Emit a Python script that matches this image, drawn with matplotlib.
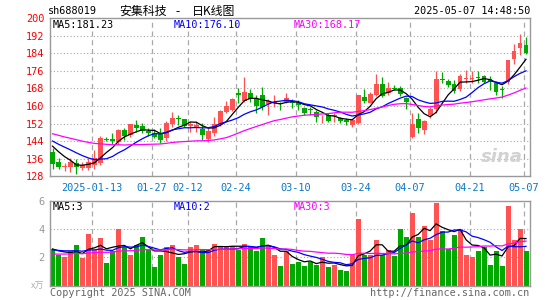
import matplotlib
matplotlib.use("Agg")
import matplotlib.pyplot as plt
import numpy as np
import pandas as pd

# ---------------- data ----------------
dates = ["01-02", "01-03", "01-06", "01-07", "01-08", "01-09", "01-10", "01-13", "01-14", "01-15",
         "01-16", "01-17", "01-20", "01-21", "01-22", "01-23", "01-24", "01-27",
         "02-05", "02-06", "02-07", "02-10", "02-11", "02-12", "02-13", "02-14", "02-17", "02-18",
         "02-19", "02-20", "02-21", "02-24", "02-25", "02-26", "02-27", "02-28",
         "03-03", "03-04", "03-05", "03-06", "03-07", "03-10", "03-11", "03-12", "03-13", "03-14",
         "03-17", "03-18", "03-19", "03-20", "03-21", "03-24", "03-25", "03-26", "03-27", "03-28", "03-31",
         "04-01", "04-02", "04-03", "04-07", "04-08", "04-09", "04-10", "04-11", "04-14", "04-15",
         "04-16", "04-17", "04-18", "04-21", "04-22", "04-23", "04-24", "04-25", "04-28", "04-29", "04-30",
         "05-06", "05-07"]

open_ = [139.1, 134.5, 132.1, 132.4, 133.9, 132.0, 132.0, 133.2, 134.0, 145.0,
         145.1, 143.8, 149.1, 147.0, 151.5, 150.9, 148.6, 147.9, 147.3, 145.3,
         151.8, 154.5, 154.0, 150.9, 150.3, 149.4, 145.0, 147.8, 151.6, 157.4,
         158.2, 166.1, 162.4, 166.0, 163.3, 165.0, 160.7, 161.2, 161.3, 162.0,
         161.7, 161.2, 159.0, 158.3, 157.4, 154.8, 155.9, 155.4, 154.4, 153.6,
         151.4, 152.1, 164.2, 161.5, 165.0, 170.0, 165.8, 168.3, 168.0, 163.5,
         146.0, 154.1, 149.2, 155.9, 158.5, 172.3, 171.5, 170.2, 167.8, 172.1,
         172.1, 173.2, 173.5, 172.4, 170.5, 167.9, 171.0, 181.5, 186.3, 187.9]
high = [140.8, 136.4, 134.2, 136.2, 135.8, 134.7, 136.5, 140.0, 146.4, 145.9,
        147.6, 149.4, 150.1, 151.8, 153.6, 152.1, 150.1, 149.4, 149.9, 153.3,
        157.4, 155.9, 154.3, 152.9, 153.2, 152.5, 150.0, 155.0, 158.3, 162.4,
        163.5, 168.4, 173.2, 167.6, 164.8, 168.6, 163.0, 165.0, 162.0, 165.9,
        163.0, 162.7, 159.7, 159.7, 158.2, 155.9, 156.7, 156.7, 155.1, 154.4,
        154.0, 165.0, 167.8, 166.5, 174.5, 173.0, 171.0, 169.5, 169.2, 164.2,
        157.0, 157.0, 153.6, 159.7, 175.8, 175.5, 172.1, 172.0, 174.4, 176.5,
        176.0, 176.0, 174.0, 173.6, 171.3, 169.0, 181.1, 188.4, 192.9, 191.4]
low = [131.5, 131.5, 130.6, 130.1, 129.1, 130.9, 130.9, 131.2, 133.0, 144.1,
       142.6, 142.7, 144.5, 146.1, 148.3, 147.6, 146.4, 145.3, 143.0, 144.1,
       150.6, 151.4, 150.5, 148.0, 148.3, 144.5, 143.8, 146.5, 150.8, 156.7,
       157.9, 161.2, 162.0, 162.0, 156.9, 158.2, 155.9, 159.7, 158.2, 161.2,
       159.0, 158.2, 155.9, 155.9, 152.9, 152.4, 152.9, 152.9, 152.1, 151.4,
       150.6, 152.0, 161.2, 161.2, 164.6, 164.0, 165.0, 167.3, 164.5, 158.5,
       145.3, 147.8, 147.3, 154.5, 157.0, 170.6, 168.8, 165.9, 166.6, 170.5,
       170.5, 170.5, 170.5, 167.4, 165.1, 163.5, 170.2, 179.0, 183.2, 183.7]
close = [133.8, 132.4, 132.9, 134.4, 132.4, 133.3, 134.5, 136.4, 145.6, 144.6,
         144.1, 149.1, 146.4, 151.8, 150.1, 148.8, 147.9, 146.0, 144.5, 152.1,
         154.7, 154.2, 151.0, 151.7, 151.4, 147.0, 148.6, 151.6, 157.6, 160.0,
         163.2, 164.8, 166.5, 163.0, 160.0, 159.7, 162.2, 162.0, 160.9, 163.5,
         161.4, 160.5, 157.0, 158.1, 155.1, 155.0, 153.3, 155.6, 153.3, 152.9,
         153.6, 165.0, 162.3, 165.6, 170.2, 164.5, 168.3, 167.8, 165.5, 162.0,
         151.8, 150.0, 153.2, 158.5, 172.1, 171.8, 169.5, 167.0, 173.8, 172.6,
         172.6, 172.6, 170.8, 171.3, 166.2, 167.5, 180.8, 185.0, 188.8, 184.2]
# closes of the 29 sessions before the visible window (for the moving averages)
hist_close = [154, 155, 153, 152, 153, 151, 150, 152, 151, 150, 149, 150, 148, 148, 148,
              145, 144, 142, 143, 143, 147, 146, 147, 146, 146, 145, 144, 143, 143]

volume = [2.62, 2.14, 2.0, 2.48, 2.86, 1.93, 3.64, 2.5, 3.36, 1.64,
          2.48, 4.05, 2.74, 2.14, 2.9, 3.43, 2.52, 1.33, 2.14, 2.71,
          2.9, 2.0, 1.57, 2.76, 2.9, 2.62, 2.55, 2.98, 2.83, 2.83,
          2.79, 2.55, 2.98, 2.74, 2.43, 3.4, 2.79, 2.19, 1.4, 2.43,
          1.55, 1.69, 1.40, 1.69, 1.5, 2.05, 1.33, 1.48, 1.12, 1.05,
          2.19, 4.76, 2.14, 2.14, 3.26, 2.19, 2.5, 2.12, 4.05, 3.43,
          5.12, 3.43, 4.26, 3.26, 5.83, 3.9, 2.6, 3.57, 4.05, 2.14,
          2.05, 2.43, 2.74, 1.48, 2.48, 1.40, 5.64, 3.21, 4.02, 2.43]
hist_volume = [2.3, 1.9, 2.2, 2.0, 2.4, 1.8, 2.1, 2.3, 1.9, 2.0, 2.2, 1.8, 2.1, 2.3, 2.0,
               2.2, 1.9, 2.1, 2.2, 2.1, 2.6, 2.3, 2.5, 2.7, 2.35, 2.8, 2.4, 2.7, 2.5]

tick_dates = ["01-13", "01-27", "02-12", "02-24", "03-10", "03-24", "04-07", "04-21", "05-07"]
tick_labels = ["2025-01-13", "01-27", "02-12", "02-24", "03-10", "03-24", "04-07", "04-21", "05-07"]
price_ticks = [128, 136, 144, 152, 160, 168, 176, 184, 192, 200]
vol_ticks = [2, 4, 6]
ma_periods = [5, 10, 30]
ma_labels = ["MA5:181.23", "MA10:176.10", "MA30:168.17"]
vol_ma_labels = ["MA5:3", "MA10:2", "MA30:3"]
ma_colors = ["#000000", "#0000ff", "#ff00ff"]
title_parts = ["安集科技", "-", "日K线图"]

# ---------------- style ----------------
W, H = 545, 300
RED = "#ff5353"
GREEN = "#00a800"
GRID = "#a8a8a8"
BORDER = "#999999"
MONO = ["DejaVu Sans Mono", "Noto Sans CJK SC"]
CJK = ["Noto Sans CJK SC", "DejaVu Sans"]
plt.rcParams["font.family"] = MONO


def fx(x):
    return x / W


def fy(y):
    return 1 - y / H


fig = plt.figure(figsize=(W / 100, H / 100), dpi=100)
fig.patch.set_facecolor("white")

ax = fig.add_axes([fx(50), fy(176.4), 479.5 / W, 158.4 / H])
axv = fig.add_axes([fx(50), fy(285.7), 479.5 / W, 84.7 / H])

n = len(close)
idx = np.arange(n)
xc = idx + 0.42
bw = 0.8
o = np.array(open_)
c = np.array(close)
hi = np.array(high)
lo = np.array(low)
up = c >= o
cols = np.where(up, RED, GREEN)

tick_pos = [dates.index(d) for d in tick_dates]

for a in (ax, axv):
    a.set_xlim(0, n)
    for s in a.spines.values():
        s.set_color(BORDER)
        s.set_linewidth(1.0)
    for p in tick_pos:
        a.axvline(p, color=GRID, lw=0.9, ls=(0, (4, 3)), zorder=0)

# price panel
ax.set_ylim(price_ticks[0], price_ticks[-1])
for t in price_ticks[1:-1]:
    ax.axhline(t, color=GRID, lw=0.8, ls=(0, (1, 2)), zorder=0)

ax.vlines(xc, lo, hi, colors=cols, lw=0.9, zorder=2)
body_h = np.maximum(np.abs(c - o), 0.35)
ax.bar(xc, body_h, bottom=np.minimum(o, c), width=bw, color=cols, lw=0, zorder=3)

all_close = pd.Series(hist_close + close)
for p, col in zip(ma_periods, ma_colors):
    m = all_close.rolling(p).mean().to_numpy()[len(hist_close):]
    ax.plot(xc, m, color=col, lw=0.9, zorder=4)

ax.set_yticks(price_ticks)
ax.set_yticklabels([str(t) for t in price_ticks])
ax.tick_params(axis="y", length=0, pad=4, labelcolor="#ff0000", labelsize=7.4)
ax.set_xticks(tick_pos)
ax.set_xticklabels(tick_labels)
ax.tick_params(axis="x", length=0, pad=4.5, labelcolor="#0a78c8", labelsize=7.4)

ax.text(0.985, 0.12, "sina", transform=ax.transAxes, ha="right", va="center",
        fontsize=13, fontweight="bold", style="italic", color="#d2d2d2",
        family="DejaVu Sans", zorder=1)

# volume panel
axv.set_ylim(0, 6)
for t in vol_ticks[:-1]:
    axv.axhline(t, color=GRID, lw=0.8, ls=(0, (1, 2)), zorder=0)
axv.bar(xc, volume, width=0.84, color=cols, lw=0, zorder=2)
all_vol = pd.Series(hist_volume + volume)
for p, col in zip(ma_periods, ma_colors):
    m = all_vol.rolling(p).mean().to_numpy()[len(hist_volume):]
    axv.plot(xc, m, color=col, lw=0.9, zorder=4)
axv.set_yticks(vol_ticks)
axv.set_yticklabels([str(t) for t in vol_ticks])
axv.tick_params(axis="y", length=0, pad=4, labelcolor="#999999", labelsize=7.4)
axv.set_xticks([])

# ---------------- texts ----------------
fs = 7.3
fig.text(fx(48), fy(11.5), "sh688019", fontsize=fs, va="center", ha="left", color="black")
for x0, part in zip([119, 175, 192], title_parts):
    fig.text(fx(x0), fy(11.5), part, fontsize=8.6, va="center", ha="left",
             color="black", family=CJK)
fig.text(fx(530), fy(11.5), "2025-05-07 14:48:50", fontsize=fs, va="center", ha="right", color="black")

for x0, lab, col in zip([53, 173.5, 294], ma_labels, ma_colors):
    fig.text(fx(x0), fy(24.5), lab, fontsize=fs, va="center", ha="left", color=col)
for x0, lab, col in zip([53, 173.5, 294], vol_ma_labels, ma_colors):
    fig.text(fx(x0), fy(206.5), lab, fontsize=fs, va="center", ha="left", color=col)

fig.text(fx(44), fy(286.5), "x万", fontsize=6.5, va="center", ha="right", color="#b0b0b0",
         family=CJK)
fig.text(fx(50), fy(292.5), "Copyright 2025 SINA.COM", fontsize=fs, va="center", ha="left", color="#666666")
fig.text(fx(529), fy(292.5), "http://finance.sina.com.cn", fontsize=fs, va="center", ha="right", color="#666666")

fig.savefig("out.png", dpi=100, facecolor="white")
